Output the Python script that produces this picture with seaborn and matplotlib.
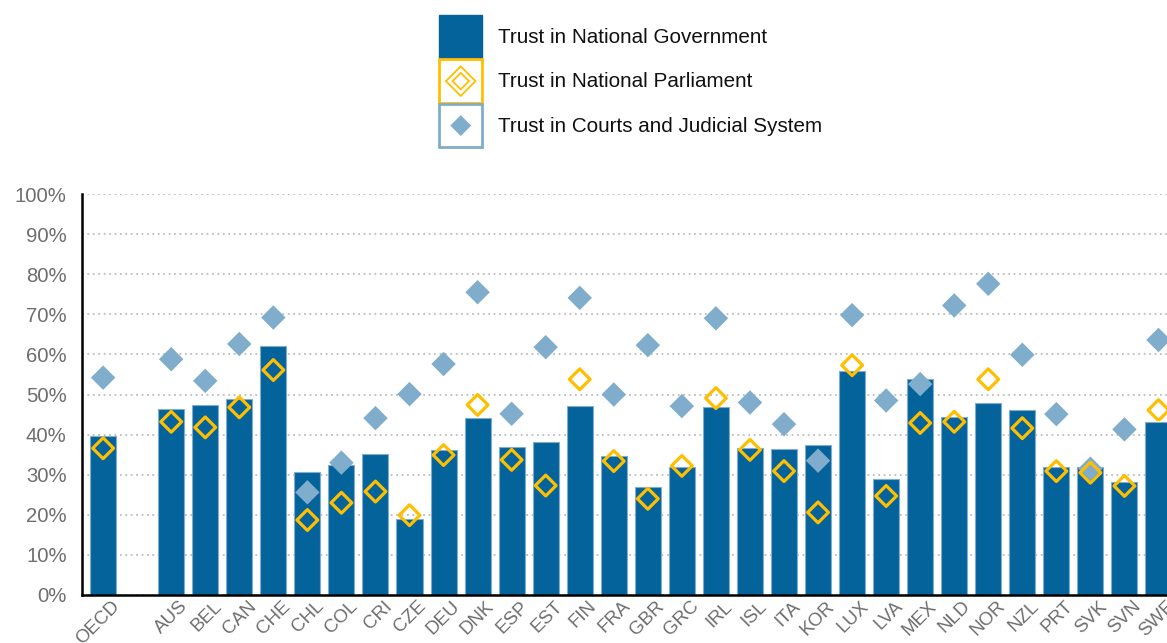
import numpy as np
import pandas as pd
import matplotlib
matplotlib.use("Agg")
import matplotlib.pyplot as plt
import seaborn as sns
from matplotlib.patches import Patch, Rectangle, Polygon
from matplotlib.legend_handler import HandlerBase
from matplotlib.ticker import MultipleLocator, PercentFormatter
from matplotlib.transforms import ScaledTranslation

countries = ["OECD", " ", "AUS", "BEL", "CAN", "CHE", "CHL", "COL", "CRI", "CZE", "DEU",
             "DNK", "ESP", "EST", "FIN", "FRA", "GBR", "GRC", "IRL", "ISL", "ITA",
             "KOR", "LUX", "LVA", "MEX", "NLD", "NOR", "NZL", "PRT", "SVK", "SVN", "SWE"]
government = [39.6, np.nan, 46.5, 47.5, 48.8, 62.2, 30.7, 32.4, 35.1, 18.9, 36.2,
              44.2, 37.0, 38.1, 47.2, 34.6, 27.0, 31.9, 46.9, 36.7, 36.3,
              37.5, 55.9, 28.9, 53.8, 44.3, 48.0, 46.1, 31.8, 31.8, 28.1, 43.1]
parliament = [36.6, np.nan, 43.2, 41.8, 46.8, 56.1, 18.7, 23.0, 25.8, 19.9, 34.9,
              47.4, 33.7, 27.3, 53.8, 33.4, 24.0, 32.2, 49.1, 36.2, 30.9,
              20.6, 57.3, 24.7, 42.9, 43.2, 53.8, 41.6, 30.9, 30.5, 27.2, 46.1]
courts = [54.2, np.nan, 58.8, 53.4, 62.6, 69.2, 25.6, 33.0, 44.1, 50.1, 57.6,
          75.5, 45.2, 61.8, 74.1, 50.0, 62.3, 47.1, 69.0, 48.0, 42.6,
          33.5, 69.8, 48.5, 52.6, 72.2, 77.6, 59.9, 45.1, 31.5, 41.3, 63.6]
labels = ["Trust in National Government", "Trust in National Parliament",
          "Trust in Courts and Judicial System"]

BLUE = "#05639C"
YELLOW = "#FFBF00"
LIGHT = "#7FADCB"
GRAY = "#6E6E6E"

sns.set_style("white")
plt.rcParams["font.family"] = ["Liberation Sans", "DejaVu Sans"]

df = pd.DataFrame({"country": countries, "gov": government,
                   "parl": parliament, "courts": courts})
df["pos"] = np.arange(len(df))

fig = plt.figure(figsize=(11.67, 6.43), dpi=100)
ax = fig.add_axes([82 / 1167, 48 / 643, 1 - 82 / 1167, (595 - 194) / 643])

sns.barplot(data=df, x="country", y="gov", order=countries, color=BLUE,
            saturation=1, width=0.765, edgecolor=LIGHT, linewidth=0.8, ax=ax, zorder=2)
sns.scatterplot(data=df, x="pos", y="courts", marker="D", s=155, color=LIGHT,
                edgecolor="none", linewidth=0, ax=ax, zorder=3, legend=False)
sns.scatterplot(data=df, x="pos", y="parl", marker="D", s=112, facecolor="none",
                edgecolor=YELLOW, linewidth=2.3, ax=ax, zorder=4, legend=False)

ax.set_xlim(-0.62, 31.25)
ax.set_ylim(0, 100)
ax.yaxis.set_major_locator(MultipleLocator(10))
ax.yaxis.set_major_formatter(PercentFormatter(decimals=0))
ax.set_xlabel("")
ax.set_ylabel("")
ax.grid(axis="y", color="#BDBDBD", linestyle=(0, (1, 2)), linewidth=1.3, zorder=0)
ax.grid(axis="x", visible=False)
ax.set_axisbelow(True)
for side in ["top", "right"]:
    ax.spines[side].set_visible(False)
for side in ["left", "bottom"]:
    ax.spines[side].set_color("black")
    ax.spines[side].set_linewidth(1.8)
ax.tick_params(axis="y", direction="out", length=7, width=1.8, color="black",
               labelsize=14.6, labelcolor=GRAY, pad=4)
ax.tick_params(axis="x", length=0, labelsize=13.5, labelcolor=GRAY, pad=2)
ax.set_xticks(range(len(countries)))
ax.set_xticklabels(countries, rotation=45, ha="right", va="top", rotation_mode="anchor")
shift = ScaledTranslation(8 / 100, 0, fig.dpi_scale_trans)
for lab in ax.get_xticklabels():
    lab.set_transform(lab.get_transform() + shift)


class BoxDiamondHandler(HandlerBase):
    """Square outlined box with centred diamond(s)."""
    def __init__(self, box_edge, diamonds):
        super().__init__()
        self.box_edge = box_edge
        self.diamonds = diamonds  # list of (fraction, face, edge, lw)

    def create_artists(self, legend, orig_handle, xdescent, ydescent,
                       width, height, fontsize, trans):
        x0, y0 = -xdescent, -ydescent
        arts = [Rectangle((x0, y0), width, height, facecolor="white",
                          edgecolor=self.box_edge, linewidth=2, transform=trans)]
        cx, cy = x0 + width / 2, y0 + height / 2
        for frac, face, edge, lw in self.diamonds:
            r = frac * min(width, height) / 2
            arts.append(Polygon([[cx - r, cy], [cx, cy + r], [cx + r, cy], [cx, cy - r]],
                                closed=True, facecolor=face, edgecolor=edge,
                                linewidth=lw, transform=trans))
        return arts


h_gov = Patch(facecolor=BLUE, edgecolor=BLUE)
h_parl = Patch(facecolor="white", edgecolor=YELLOW)
h_court = Patch(facecolor="white", edgecolor=LIGHT)
hmap = {
    h_parl: BoxDiamondHandler(YELLOW, [(0.68, "none", YELLOW, 1.3),
                                       (0.38, "none", YELLOW, 1.3)]),
    h_court: BoxDiamondHandler(LIGHT, [(0.48, LIGHT, "none", 0)]),
}
leg = fig.legend([h_gov, h_parl, h_court], labels, loc="upper left",
                 bbox_to_anchor=(439 / 1167, 1 - 15 / 643), frameon=False,
                 fontsize=14.9, handlelength=2.1, handleheight=2.85,
                 handletextpad=0.75, labelspacing=0.05, borderpad=0, borderaxespad=0,
                 handler_map=hmap)
for t in leg.get_texts():
    t.set_color("#111111")

fig.savefig("out.png", dpi=100)
